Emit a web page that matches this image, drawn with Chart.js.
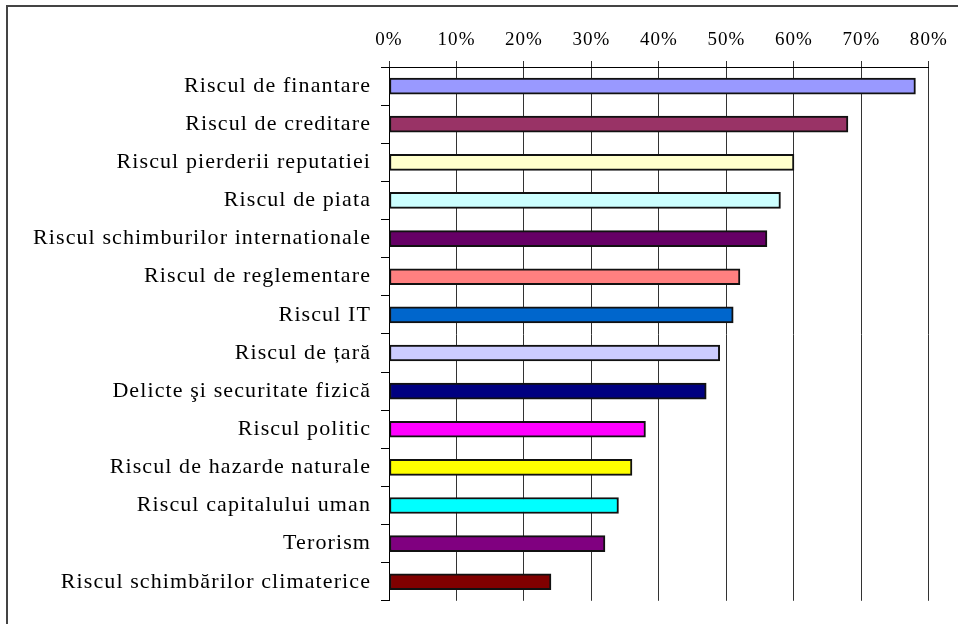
<!DOCTYPE html>
<html>
<head>
<meta charset="utf-8">
<script src="https://cdn.jsdelivr.net/npm/chart.js@4"></script>
<style>
    html, body { margin: 0; padding: 0; background: #fff; overflow: hidden; }
    #wrap { position: relative; width: 958px; height: 624px; }
    #frame {
        position: absolute; left: 6px; top: 5px; width: 1000px; height: 1000px;
        border-left: 2px solid #444; border-top: 2px solid #444;
        pointer-events: none;
    }
    canvas { display: block; }
</style>
</head>
<body>
<div id="wrap">
    <canvas id="chart" width="958" height="624"></canvas>
    <div id="frame"></div>
</div>
<script>
const labels = [
    'Riscul de finantare',
    'Riscul de creditare',
    'Riscul pierderii reputatiei',
    'Riscul de piata',
    'Riscul schimburilor internationale',
    'Riscul de reglementare',
    'Riscul IT',
    'Riscul de țară',
    'Delicte şi securitate fizică',
    'Riscul politic',
    'Riscul de hazarde naturale',
    'Riscul capitalului uman',
    'Terorism',
    'Riscul schimbărilor climaterice',
];

const values = [78, 68, 60, 58, 56, 52, 51, 49, 47, 38, 36, 34, 32, 24];

const colors = [
    '#9999FF', '#993366', '#FFFFCC', '#CCFFFF', '#660066', '#FF8080', '#0066CC',
    '#CCCCFF', '#000080', '#FF00FF', '#FFFF00', '#00FFFF', '#800080', '#800000',
];

const xTicks = [0, 10, 20, 30, 40, 50, 60, 70, 80];

// canvas letter spacing, the source text is spread out
const spacing = {
    id: 'spacing',
    beforeUpdate(chart) { chart.ctx.letterSpacing = '1.1px'; },
    beforeDraw(chart) { chart.ctx.letterSpacing = '1.1px'; },
};

const data = {
    labels: labels,
    datasets: [{
        data: values,
        backgroundColor: colors,
        borderColor: '#111',
        borderWidth: 2,
        borderSkipped: false,
        barThickness: 16,
    }]
};

const config = {
    type: 'bar',
    data: data,
    plugins: [spacing],
    options: {
        indexAxis: 'y',
        responsive: false,
        animation: false,
        layout: { padding: { left: 10, top: 0, right: 28, bottom: 7 } },
        plugins: {
            legend: { display: false },
            tooltip: { enabled: false },
        },
        scales: {
            x: {
                position: 'top',
                min: 0,
                max: 80,
                afterBuildTicks(scale) {
                    scale.ticks = xTicks.map(v => ({ value: v }));
                },
                afterFit(scale) { scale.height = 67; },
                ticks: {
                    color: '#000',
                    padding: 10,
                    font: { family: 'Liberation Serif', size: 19 },
                    callback: v => v + '%',
                },
                grid: { color: '#333', lineWidth: 1, tickLength: 6 },
                border: { display: true, color: '#000', width: 1 },
            },
            y: {
                afterFit(scale) { scale.width = 379; },
                ticks: {
                    color: '#000',
                    padding: 10,
                    font: { family: 'Liberation Serif', size: 22 },
                },
                grid: {
                    drawOnChartArea: false,
                    color: '#000',
                    tickLength: 8,
                },
                border: { display: true, color: '#000', width: 1 },
            },
        },
    },
};

const myChart = new Chart(document.getElementById('chart'), config);
</script>
</body>
</html>
